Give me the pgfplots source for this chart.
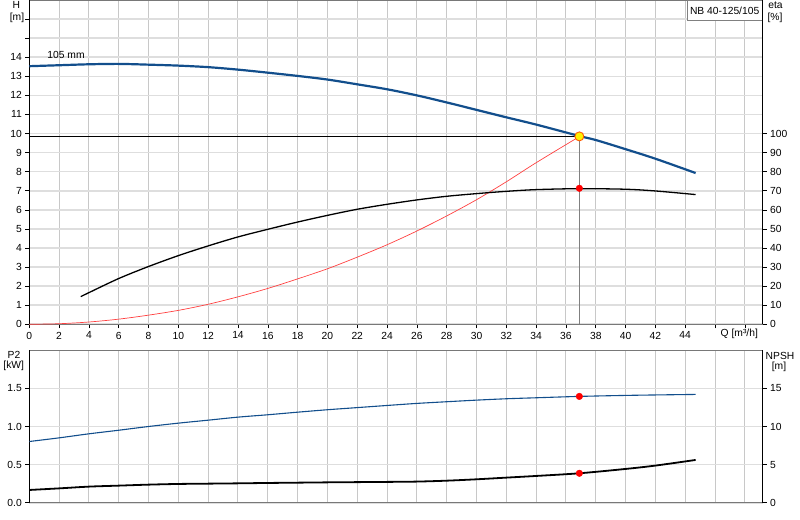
\documentclass[border=0pt]{standalone}
\usepackage{fontspec}
\setmainfont{Liberation Sans}
\usepackage{pgfplots}
\pgfplotsset{compat=1.18}

\definecolor{hblue}{RGB}{18,78,140}
\definecolor{gridh}{RGB}{222,222,222}
\definecolor{gridv}{RGB}{200,200,200}
\definecolor{spine}{RGB}{120,120,120}

\pgfplotsset{
  pump/.style={
    scale only axis, width=733.4bp,
    xmin=0, xmax=49.2,
    separate axis lines,
    x axis line style={spine, line width=1.4bp},
    y axis line style={black, line width=0.8bp},
    tick align=outside, major tick length=4bp,
    tick style={black, line width=0.6bp},
    ticklabel style={font=\fontsize{10.3bp}{12bp}\selectfont},
    /pgf/number format/assume math mode=true,
    x grid style={gridv, line width=1bp},
    y grid style={gridh, line width=1.6bp},
  },
  overlay/.style={
    scale only axis, width=733.4bp,
    xmin=0, xmax=49.2,
    axis x line=none, axis y line*=right,
    y axis line style={black, line width=0.8bp},
    tick align=outside, major tick length=4bp,
    tick style={black, line width=0.6bp},
    ticklabel style={font=\fontsize{10.3bp}{12bp}\selectfont},
    /pgf/number format/assume math mode=true,
  },
}

\begin{document}
\begin{tikzpicture}[font=\fontsize{10.3bp}{12bp}\selectfont]
\useasboundingbox (0,0) rectangle (800bp,520bp);

% head / system curve
\begin{axis}[pump,
  at={(29.3bp,195.7bp)}, anchor=south west, height=324.3bp,
  ymin=0, ymax=17,
  xtick={0,2,...,48},
  xticklabels={0,2,4,6,8,10,12,14,16,18,20,22,24,26,28,30,32,34,36,38,40,42,44,,},
  ytick={0,1,...,16},
  yticklabels={0,1,2,3,4,5,6,7,8,9,10,11,12,13,14,,},
  xtick pos=bottom, ytick pos=left,
  grid=major,
]
\addplot[black, line width=0.8bp] coordinates {(0,9.83) (36.9,9.83)};
\addplot[gray, line width=0.8bp] coordinates {(36.9,0) (36.9,9.83)};
\addplot[red!75, line width=0.7bp, smooth] coordinates {
 (0,0)(2,0.03)(4,0.12)(6,0.27)(8,0.48)(10,0.73)(12,1.05)(14,1.44)(16,1.88)
 (18,2.38)(20,2.91)(22,3.52)(24,4.17)(26,4.89)(28,5.68)(30,6.53)(32,7.47)
 (34,8.47)(36.9,9.84)};
\addplot[hblue, line width=2.2bp, smooth] coordinates {
 (0,13.53)(2,13.58)(4,13.63)(6,13.65)(8,13.61)(10,13.56)(12,13.48)(14,13.35)
 (16,13.19)(18,13.02)(20,12.83)(22,12.58)(24,12.32)(26,12.0)(28,11.63)
 (30,11.24)(32,10.85)(34,10.47)(36.9,9.87)(38,9.66)(40,9.18)(42,8.68)(44.7,7.93)};
\addplot[only marks, mark=*, mark size=4.5bp,
  mark options={fill=yellow, draw=orange!70!red, line width=0.9bp}]
  coordinates {(36.9,9.85)};
\node[anchor=west, inner sep=0] at (axis cs:1.2,14.12) {105 mm};
\node[anchor=north east, draw=gray, fill=white, inner xsep=3bp,
  minimum height=20bp, line width=0.8bp] at (rel axis cs:1,1) {NB 40-125/105};
\end{axis}

% efficiency
\begin{axis}[overlay,
  at={(29.3bp,195.7bp)}, anchor=south west, height=324.3bp,
  ymin=0, ymax=170,
  ytick={0,10,...,100},
]
\addplot[black, line width=1.3bp, smooth] coordinates {
 (3.45,14.5)(4,16.6)(6,24.0)(8,30.3)(10,36.0)(12,41.1)(14,45.8)(16,49.8)
 (18,53.6)(20,57.1)(22,60.3)(24,62.9)(26,65.2)(28,67.1)(30,68.5)(32,69.7)
 (34,70.6)(36.9,71.1)(40,70.8)(42,69.9)(44.7,68.0)};
\addplot[only marks, mark=*, mark size=3.3bp, red] coordinates {(36.9,71.3)};
\end{axis}

% power P2
\begin{axis}[pump,
  at={(29.3bp,17.3bp)}, anchor=south west, height=152.4bp,
  ymin=0, ymax=2,
  xtick={0,2,...,48}, xticklabels={}, xtick style={draw=none},
  ytick={0,0.5,1,1.5}, yticklabels={0.0,0.5,1.0,1.5},
  ytick pos=left,
  grid=major,
]
\addplot[hblue, line width=1.1bp, smooth] coordinates {
 (0,0.803)(2,0.851)(4,0.904)(6,0.951)(8,1.0)(10,1.044)(12,1.083)(14,1.123)
 (16,1.154)(18,1.188)(20,1.22)(22,1.248)(24,1.276)(26,1.303)(28,1.325)
 (30,1.346)(32,1.364)(34,1.377)(36.9,1.395)(40,1.408)(42,1.414)(44.7,1.421)};
\addplot[only marks, mark=*, mark size=3.3bp, red] coordinates {(36.9,1.395)};
\end{axis}

% NPSH
\begin{axis}[overlay,
  at={(29.3bp,17.3bp)}, anchor=south west, height=152.4bp,
  ymin=0, ymax=20,
  ytick={0,5,10,15},
]
\addplot[black, line width=1.8bp, smooth] coordinates {
 (0,1.67)(2,1.88)(4,2.11)(6,2.24)(8,2.37)(10,2.46)(12,2.50)(14,2.54)(16,2.59)
 (18,2.63)(20,2.67)(22,2.70)(24,2.73)(26,2.77)(28,2.89)(30,3.07)(32,3.29)
 (34,3.51)(36.9,3.86)(40,4.43)(42,4.87)(44.7,5.61)};
\addplot[only marks, mark=*, mark size=3.3bp, red] coordinates {(36.9,3.86)};
\end{axis}

% axis names
\node at (16.3bp,515bp) {H};
\node at (17bp,502.5bp) {[m]};
\node at (775.5bp,515bp) {eta};
\node at (775bp,502.5bp) {[\%]};
\node at (739.3bp,186bp) {Q [m³/h]};
\node at (14bp,165bp) {P2};
\node at (13.7bp,154bp) {[kW]};
\node at (780bp,164.5bp) {NPSH};
\node at (779bp,153.5bp) {[m]};
\end{tikzpicture}
\end{document}
